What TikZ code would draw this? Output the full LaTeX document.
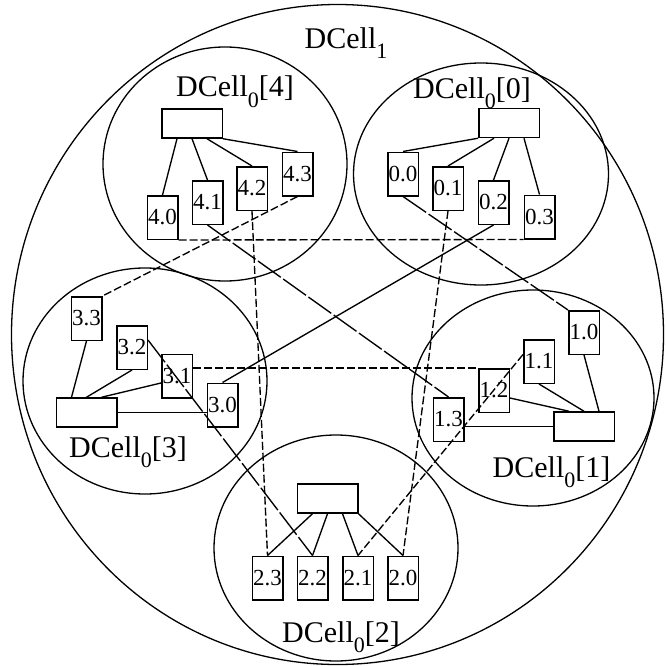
\documentclass[tikz,border=0pt]{standalone}
\usepackage{fontspec}
\setmainfont{Liberation Serif}
\usetikzlibrary{shapes.geometric}
\newcommand{\subdig}[1]{\raisebox{-10pt}{\fontsize{22}{22}\selectfont #1}}
\newcommand{\dcl}[1]{DCell\subdig{0}[#1]}
\tikzset{
  cell/.style={draw, ellipse, line width=1.3pt, inner sep=0pt},
  srv/.style={draw, line width=1.5pt, minimum width=30.5pt, minimum height=43.5pt, inner sep=0pt, font=\fontsize{23}{23}\selectfont},
  sw/.style={draw, line width=1.5pt, minimum width=60.5pt, minimum height=29pt, inner sep=0pt},
  lbl/.style={font=\fontsize{30}{30}\selectfont, inner sep=0pt, anchor=base},
  wire/.style={line width=1.35pt},
  link/.style={line width=1.35pt, dash pattern=on 8pt off 3pt},
  longlink/.style={line width=1.35pt, dash pattern=on 28pt off 3pt},
}
\begin{document}
\begin{tikzpicture}[x=1pt,y=-1pt]
\useasboundingbox (0,0) rectangle (665,666);
% cells
\node[cell, minimum width=652pt, minimum height=660pt] (outer) at (337.5,334.5) {};
\node[cell, minimum width=244pt, minimum height=234pt] (c4) at (225,164) {};
\node[cell, minimum width=255pt, minimum height=222pt] (c0) at (481,174) {};
\node[cell, minimum width=244pt, minimum height=226pt] (c3) at (145,381) {};
\node[cell, minimum width=242pt, minimum height=216pt] (c1) at (533,398) {};
\node[cell, minimum width=244pt, minimum height=226pt] (c2) at (336,548) {};
% labels
\node[lbl] (l1top) at (346,49) {DCell\subdig{1}};
\node[lbl] (l4) at (235,97) {\dcl{4}};
\node[lbl] (l0) at (472,99) {\dcl{0}};
\node[lbl] (l3) at (128,457) {\dcl{3}};
\node[lbl] (l1) at (551.5,477) {\dcl{1}};
\node[lbl] (l2) at (341,642) {\dcl{2}};
% switches
\node[sw] (sw4) at (192,123.5) {};
\node[sw] (sw0) at (509,123) {};
\node[sw] (sw3) at (86.5,412.5) {};
\node[sw] (sw1) at (584,426.5) {};
\node[sw] (sw2) at (327.5,498.5) {};
% servers
\node[srv] (s40) at (162.5,217.5) {4.0};
\node[srv] (s41) at (207.5,202.5) {4.1};
\node[srv] (s42) at (252,188.5) {4.2};
\node[srv] (s43) at (297.5,174) {4.3};
\node[srv] (s00) at (403,174) {0.0};
\node[srv] (s01) at (448,188.5) {0.1};
\node[srv] (s02) at (493.5,202.5) {0.2};
\node[srv] (s03) at (539.5,217) {0.3};
\node[srv] (s33) at (86.5,318.5) {3.3};
\node[srv] (s32) at (132,347.5) {3.2};
\node[srv] (s31) at (177,376) {3.1};
\node[srv] (s30) at (222.5,405) {3.0};
\node[srv] (s10) at (584,332.5) {1.0};
\node[srv] (s11) at (539,361.5) {1.1};
\node[srv] (s12) at (494,390.5) {1.2};
\node[srv] (s13) at (448.5,419.5) {1.3};
\node[srv] (s23) at (267.5,578) {2.3};
\node[srv] (s22) at (312.5,578) {2.2};
\node[srv] (s21) at (358,578) {2.1};
\node[srv] (s20) at (403,578) {2.0};
% intra-cell wires
\draw[wire] ([xshift=-15pt]sw4.south) -- (s40.north);
\draw[wire] (sw4.south) -- (s41.north);
\draw[wire] ([xshift=15pt]sw4.south) -- (s42.north);
\draw[wire] (sw4.south east) -- (s43.north);
\draw[wire] (sw0.south west) -- (s00.north);
\draw[wire] ([xshift=-15pt]sw0.south) -- (s01.north);
\draw[wire] (sw0.south) -- (s02.north);
\draw[wire] ([xshift=15pt]sw0.south) -- (s03.north);
\draw[wire] (s33.south) -- ([xshift=-15pt]sw3.north);
\draw[wire] (s32.south) -- (sw3.north);
\draw[wire] ([yshift=-7pt]s31.west) -- ([xshift=15pt]sw3.north);
\draw[wire] (sw3.east) -- (sw3.east -| s30.west);
\draw[wire] (s10.south) -- ([xshift=15pt]sw1.north);
\draw[wire] (s11.south) -- (sw1.north);
\draw[wire] ([yshift=-7.5pt]s12.east) -- ([xshift=-15pt]sw1.north);
\draw[wire] (sw1.west -| s13.east) -- (sw1.west);
\draw[wire] ([xshift=-15pt]sw2.south) -- (s23.north);
\draw[wire] (sw2.south) -- (s22.north);
\draw[wire] ([xshift=15pt]sw2.south) -- (s21.north);
\draw[wire] (sw2.south east) -- (s20.north);
% inter-cell links
\draw[longlink] (s00.south) -- (s10.north west);
\draw[link] (s01.south) -- (s20.north);
\draw[wire] (s02.south) -- (s30.north);
\draw[link] (s40.south east) -- (s03.south west);
\draw[link] ([yshift=7pt]s11.west) -- (s21.north);
\draw[link] (s31.east |- s12.north west) -- (s12.north west);
\draw[longlink] (s41.south) -- (s13.north);
\draw[longlink] ([yshift=7.5pt]s32.east) -- (s22.north);
\draw[link] (s42.south) -- (s23.north);
\draw[link] (s43.south) -- (s33.north east);
\end{tikzpicture}
\end{document}
